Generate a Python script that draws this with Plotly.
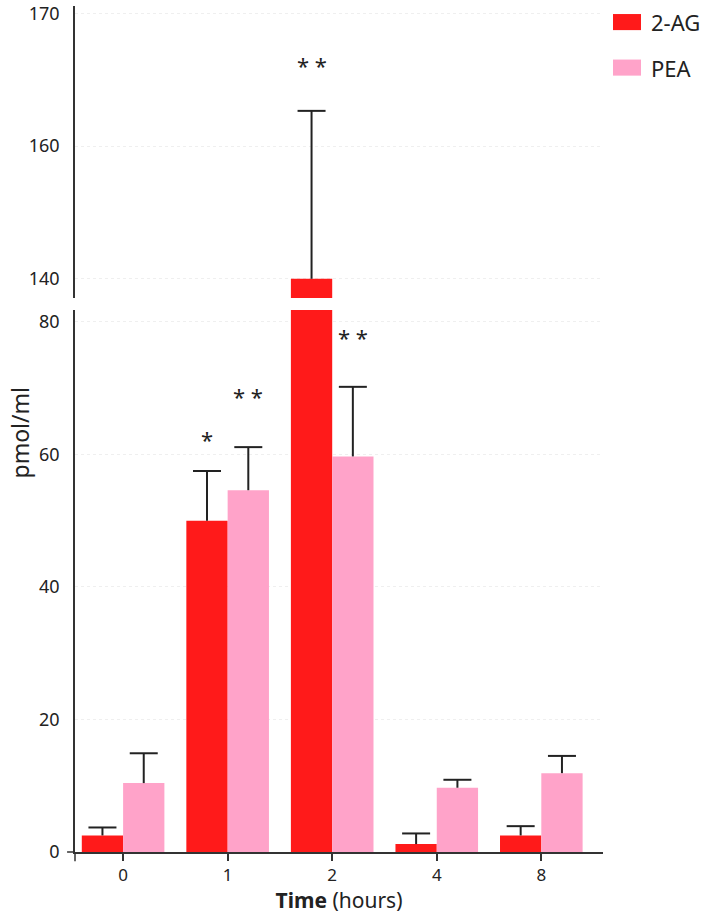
import plotly.graph_objects as go
from plotly.subplots import make_subplots

# data
times = ["0", "1", "2", "4", "8"]
ag_mean = [2.5, 50.0, 140.0, 1.2, 2.5]
ag_err = [1.2, 7.5, 25.3, 1.6, 1.4]
pea_mean = [10.4, 54.6, 59.7, 9.7, 11.9]
pea_err = [4.5, 6.5, 10.5, 1.2, 2.6]

# significance marks: (label, time, series, y value, axis part)
stars = [("*", "1", "ag", 62.3, "lower"),
         ("* *", "1", "pea", 68.8, "lower"),
         ("* *", "2", "pea", 77.7, "lower"),
         ("* *", "2", "ag", 172.2, "upper")]

upper_ticks = [140, 160, 180]
upper_ticktext = ["140", "160", "170"]
lower_ticks = [0, 20, 40, 60, 80]

RED = "#FF1A1A"
PINK = "#FFA3C9"
INK = "#222222"
FONT = "Noto Sans"
BW = 0.395  # bar width in category units

xpos = list(range(len(times)))
x_ag = [i - BW / 2 for i in xpos]
x_pea = [i + BW / 2 for i in xpos]

fig = make_subplots(rows=2, cols=1, shared_xaxes=True, vertical_spacing=0.014,
                    row_heights=[0.345, 0.64])

series = [("2-AG", ag_mean, ag_err, RED, -BW, x_ag),
          ("PEA", pea_mean, pea_err, PINK, 0, x_pea)]

for row in (1, 2):
    for name, mean, err, col, off, xc in series:
        # bar + stem only (no caps), caps added as markers so no cap sits on the bar top
        fig.add_trace(go.Bar(x=xpos, y=mean, name=name, marker_color=col,
                             marker_line_width=0, width=BW, offset=off, showlegend=False,
                             error_y=dict(type="data", symmetric=False, array=err,
                                          arrayminus=[0] * len(err), color=INK,
                                          thickness=2, width=0)),
                      row=row, col=1)
        fig.add_trace(go.Scatter(x=xc, y=[m + e for m, e in zip(mean, err)], mode="markers",
                                 marker=dict(symbol="line-ew", size=20,
                                             line=dict(color=INK, width=2)),
                                 showlegend=False, hoverinfo="skip"),
                      row=row, col=1)

for label, t, s, yv, part in stars:
    xs = x_ag if s == "ag" else x_pea
    fig.add_annotation(x=xs[times.index(t)], y=yv, text=label, showarrow=False,
                       xref="x2" if part == "lower" else "x",
                       yref="y2" if part == "lower" else "y",
                       font=dict(family=FONT, size=22, color=INK))

grid = dict(showgrid=True, gridcolor="#efefef", griddash="dot", gridwidth=1)
tickf = dict(family=FONT, size=18, color=INK)

fig.update_yaxes(range=[137.1, 181.1], tickvals=upper_ticks, ticktext=upper_ticktext,
                 showline=True, linecolor="#333", linewidth=1.5, ticks="",
                 ticklabelstandoff=10, zeroline=False, automargin=False, tickfont=tickf,
                 **grid, row=1, col=1)
fig.update_yaxes(range=[0, 81.8], tickvals=lower_ticks, showline=True,
                 linecolor="#333", linewidth=1.5, ticks="", ticklabelstandoff=10,
                 zeroline=False, automargin=False, tickfont=tickf, **grid, row=2, col=1)
fig.update_xaxes(visible=False, range=[-0.46, 4.59], automargin=False, row=1, col=1)
fig.update_xaxes(range=[-0.46, 4.59], tickvals=xpos, ticktext=times, showline=True,
                 linecolor="#333", linewidth=1.5, ticks="outside", ticklen=7,
                 tickcolor="#333", tickwidth=1.5, showgrid=False, zeroline=False,
                 automargin=False, tickfont=dict(family=FONT, size=17, color=INK),
                 title=dict(text="<b>Time</b> (hours)", standoff=3,
                            font=dict(family=FONT, size=21, color=INK)),
                 row=2, col=1)
fig.update_yaxes(domain=[0.6548, 1.0], row=1, col=1)
fig.update_yaxes(domain=[0.0, 0.6407], row=2, col=1)

# y axis title centred on the whole broken axis
fig.add_annotation(x=-0.104, y=0.496, xref="paper", yref="paper", text="pmol/ml",
                   textangle=-90, showarrow=False, xanchor="center", yanchor="middle",
                   font=dict(family=FONT, size=23, color=INK))

# offset-axis stubs below and left of the origin
fig.add_shape(type="line", xref="paper", yref="paper", x0=0, x1=0, y0=-0.011, y1=0,
              line=dict(color="#333", width=1.5))
fig.add_shape(type="line", xref="paper", yref="paper", x0=-0.015, x1=0, y0=0, y1=0,
              line=dict(color="#333", width=1.5))

# legend drawn as swatches + labels, matching the wide swatches of the original
for k, (name, _, _, col, _, _) in enumerate(series):
    yc = 0.981 - k * 0.0538
    fig.add_shape(type="rect", xref="paper", yref="paper", x0=1.0189, x1=1.072,
                  y0=yc - 0.0095, y1=yc + 0.0095, fillcolor=col, line_width=0)
    fig.add_annotation(x=1.087, y=yc, xref="paper", yref="paper", text=name,
                       showarrow=False, xanchor="left", yanchor="middle",
                       font=dict(family=FONT, size=22, color=INK))

fig.update_layout(
    width=709, height=915,
    margin=dict(l=75, r=106, t=6, b=63, autoexpand=False),
    plot_bgcolor="white", paper_bgcolor="white",
    font=dict(family=FONT, size=18, color=INK),
    showlegend=False,
)

fig.write_html("out.html", config={"displayModeBar": False},
               post_script="document.body.style.margin='0';")
